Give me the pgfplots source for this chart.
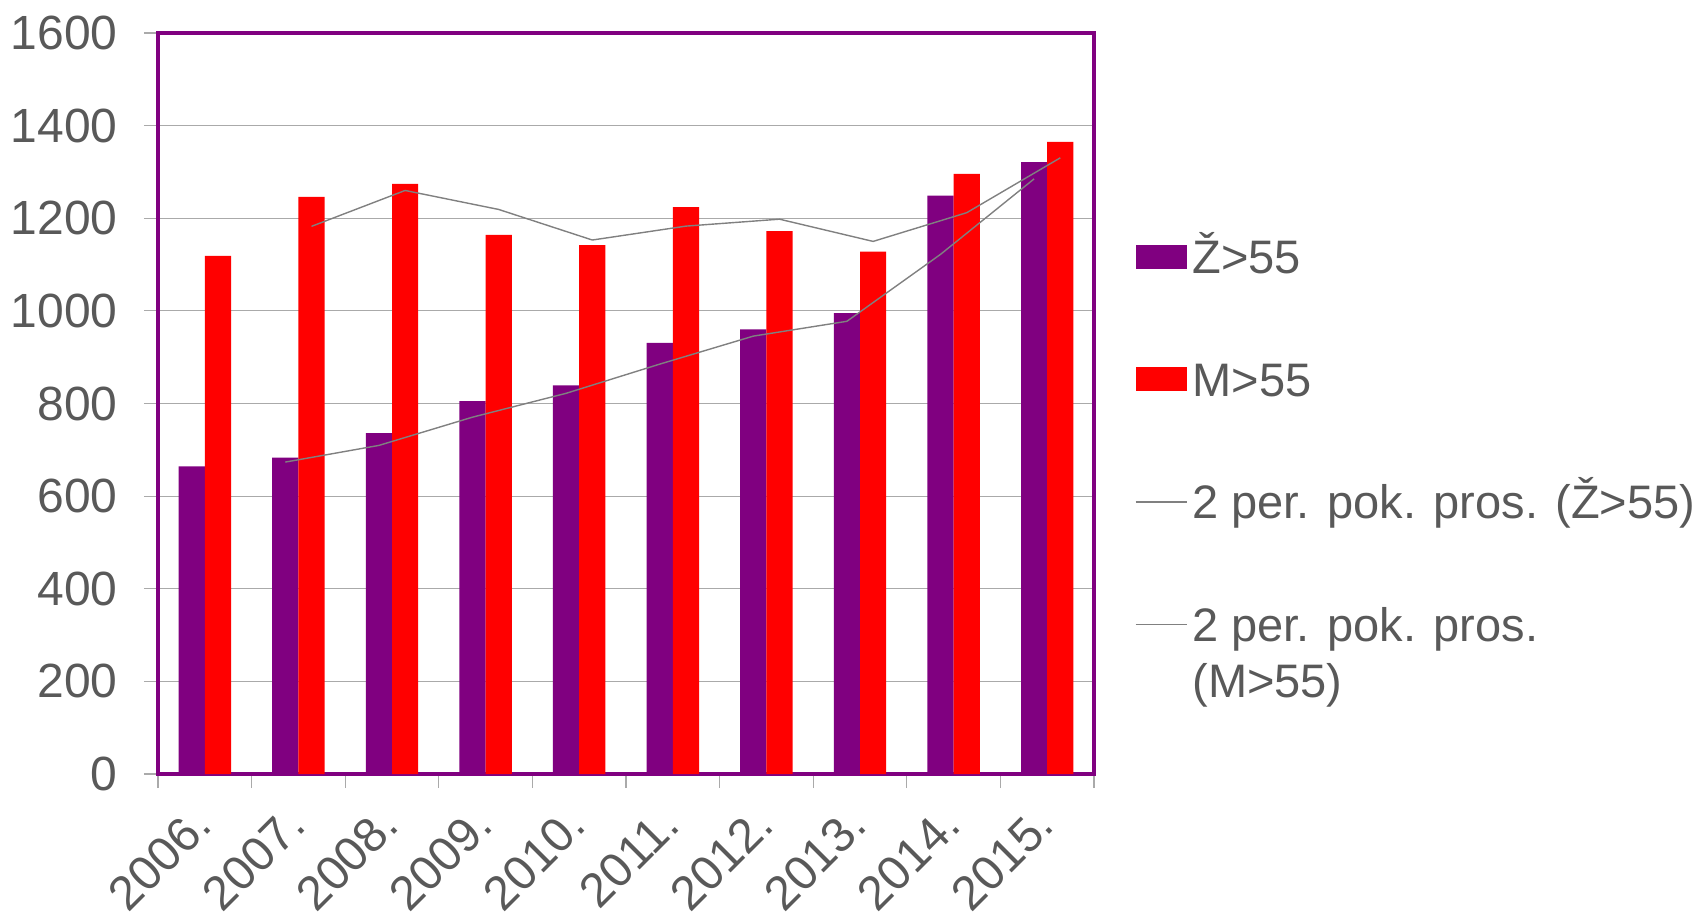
\documentclass[border=0pt]{standalone}
\usepackage{fontspec}
\setmainfont{Liberation Sans}
\usepackage{pgfplots}
\pgfplotsset{compat=1.18}
\definecolor{zpurple}{RGB}{128,0,128}
\definecolor{mred}{RGB}{255,0,0}
\definecolor{txt}{RGB}{89,89,89}
\definecolor{gridc}{RGB}{170,170,170}
\definecolor{linec}{RGB}{128,128,128}
\begin{document}
\fontsize{23}{27.6}\selectfont
\begin{tikzpicture}
\begin{axis}[
  at={(79pt,72pt)}, anchor=south west,
  scale only axis, width=468pt, height=370.5pt,
  xmin=-0.5, xmax=9.5, ymin=0, ymax=1600,
  ytick={0,200,...,1600},
  xtick={0,...,9},
  xticklabels={2006.,2007.,2008.,2009.,2010.,2011.,2012.,2013.,2014.,2015.},
  minor xtick={-0.5,0.5,...,9.5},
  tick pos=left,
  tick align=outside,
  major tick length=7pt, minor tick length=7pt,
  major x tick style={draw=none},
  minor x tick style={draw=gridc, line width=0.6pt},
  y tick style={draw=gridc, line width=0.6pt},
  ymajorgrids, grid style={gridc, line width=0.6pt},
  axis line style={zpurple, line width=1.7pt},
  /pgf/number format/assume math mode=true,
  /pgf/number format/1000 sep={},
  tick label style={text=txt, font=\fontsize{24}{28.8}\selectfont},
  yticklabel style={anchor=east, inner sep=0pt, xshift=-13pt},
  xticklabel style={anchor=base east, inner sep=0pt, xshift=4.7pt, yshift=-20pt, rotate=45},
  legend style={at={(1.0438,0.7206)}, anchor=north west, draw=none, fill=none,
    inner sep=0pt, outer sep=0pt, row sep=44.5pt, column sep=2.5pt,
    font=\fontsize{23.5}{28}\selectfont, text=txt,
    nodes={inner sep=0pt, text height=16.8pt, text depth=0pt}},
  legend cell align=left,
]
\addplot[ybar, bar width=0.28, bar shift=-0.14, fill=zpurple, draw=none,
  legend image code/.code={\fill[zpurple] (0pt,-6pt) rectangle (25.5pt,6pt);}]
  coordinates {(0,664) (1,683) (2,736) (3,805) (4,839) (5,931) (6,960) (7,995) (8,1249) (9,1321)};
\addlegendentry{Ž>55}
\addplot[ybar, bar width=0.28, bar shift=0.14, fill=mred, draw=none,
  legend image code/.code={\fill[mred] (0pt,-6pt) rectangle (25.5pt,6pt);}]
  coordinates {(0,1119) (1,1246) (2,1274) (3,1164) (4,1142) (5,1224) (6,1172) (7,1128) (8,1296) (9,1365)};
\addlegendentry{M>55}
\addplot[linec, line width=0.7pt, mark=none,
  legend image code/.code={\draw[linec,line width=0.7pt] (0pt,0pt) -- (25.5pt,0pt);}]
  coordinates {(0.86,673.5) (1.86,709.5) (2.86,770.5) (3.86,822) (4.86,885) (5.86,945.5) (6.86,977.5) (7.86,1122) (8.86,1285)};
\addlegendentry{2 per. pok. pros. (Ž>55)}
\addplot[linec, line width=0.7pt, mark=none,
  legend image code/.code={\draw[linec,line width=0.7pt] (0pt,0pt) -- (25.5pt,0pt);}]
  coordinates {(1.14,1182.5) (2.14,1260) (3.14,1219) (4.14,1153) (5.14,1183) (6.14,1198) (7.14,1150) (8.14,1212) (9.14,1330.5)};
\addlegendentry{\begin{tabular}[t]{@{}l@{}}2 per. pok. pros.\\(M>55)\end{tabular}}
\end{axis}
\pgfresetboundingbox
\path (0pt,0pt) rectangle (849pt,459pt);
\end{tikzpicture}
\end{document}
